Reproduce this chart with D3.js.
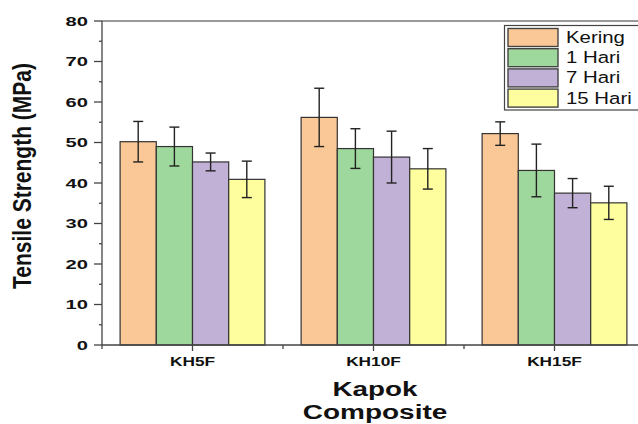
<!DOCTYPE html>
<html>
<head>
<meta charset="utf-8">
<script src="https://cdn.jsdelivr.net/npm/d3@7"></script>
<style>
  body { margin: 0; background: #fff; }
  svg { display: block; font-family: "Liberation Sans", Arial, sans-serif; }
</style>
</head>
<body>
<svg id="chart" width="638" height="424"></svg>
<script>
// data
const categories = ["KH5F", "KH10F", "KH15F"];
const seriesNames = ["Kering", "1 Hari", "7 Hari", "15 Hari"];
const seriesColors = ["#f9c896", "#9fd89c", "#c2b1d6", "#fefe9f"];
const means = [
  [50.2, 49.0, 45.2, 40.9],
  [56.2, 48.5, 46.4, 43.5],
  [52.2, 43.1, 37.5, 35.1]
];
const errors = [
  [5.0, 4.8, 2.2, 4.5],
  [7.2, 4.9, 6.4, 5.0],
  [2.9, 6.5, 3.6, 4.1]
];
const yTicks = [0, 10, 20, 30, 40, 50, 60, 70, 80];

const svg = d3.select("#chart");

const plotLeft = 102, plotRight = 645, plotTop = 21, plotBottom = 345;

const x0 = d3.scaleBand()
    .domain(categories)
    .range([plotLeft, plotRight])
    .paddingInner(0.2)
    .paddingOuter(0.1);

const x1 = d3.scaleBand()
    .domain(seriesNames)
    .range([0, x0.bandwidth()]);

const y = d3.scaleLinear()
    .domain([0, 80])
    .range([plotBottom, plotTop]);

// stretched text helper (the original picture is widened horizontally)
const addText = (g, x, yy, str, sx, size, weight, anchor) => {
  return g.append("text")
      .attr("transform", `translate(${x},${yy}) scale(${sx},1)`)
      .attr("text-anchor", anchor || "middle")
      .attr("font-size", size)
      .attr("font-weight", weight || "normal")
      .attr("fill", "#111")
      .text(str);
};

// bars
const groups = svg.append("g").selectAll("g")
    .data(categories)
    .enter()
    .append("g")
    .attr("transform", d => `translate(${x0(d)},0)`);

groups.selectAll("rect")
    .data((d, i) => means[i].map((v, j) => ({ s: seriesNames[j], v: v, e: errors[i][j], c: seriesColors[j] })))
    .enter()
    .append("rect")
    .attr("x", d => x1(d.s))
    .attr("y", d => y(d.v))
    .attr("width", x1.bandwidth())
    .attr("height", d => y(0) - y(d.v))
    .attr("fill", d => d.c)
    .attr("stroke", "#333")
    .attr("stroke-width", 1.2);

// error bars
const eb = groups.selectAll("g.err")
    .data((d, i) => means[i].map((v, j) => ({ s: seriesNames[j], v: v, e: errors[i][j] })))
    .enter()
    .append("g")
    .attr("class", "err")
    .attr("stroke", "#222")
    .attr("stroke-width", 1.4);

eb.append("line")
    .attr("x1", d => x1(d.s) + x1.bandwidth() / 2)
    .attr("x2", d => x1(d.s) + x1.bandwidth() / 2)
    .attr("y1", d => y(d.v + d.e))
    .attr("y2", d => y(d.v - d.e));
[1, -1].forEach(sign => {
  eb.append("line")
      .attr("x1", d => x1(d.s) + x1.bandwidth() / 2 - 5)
      .attr("x2", d => x1(d.s) + x1.bandwidth() / 2 + 5)
      .attr("y1", d => y(d.v + sign * d.e))
      .attr("y2", d => y(d.v + sign * d.e));
});

// frame
svg.append("line")
    .attr("x1", plotLeft).attr("x2", plotRight)
    .attr("y1", plotTop).attr("y2", plotTop)
    .attr("stroke", "#777").attr("stroke-width", 1.3);

const axisG = svg.append("g").attr("stroke", "#444").attr("stroke-width", 1.3);
axisG.append("line").attr("x1", plotLeft).attr("x2", plotLeft).attr("y1", plotTop).attr("y2", plotBottom);
axisG.append("line").attr("x1", plotLeft).attr("x2", plotRight).attr("y1", plotBottom).attr("y2", plotBottom);

// y ticks
yTicks.forEach(t => {
  axisG.append("line").attr("x1", plotLeft - 8).attr("x2", plotLeft).attr("y1", y(t)).attr("y2", y(t));
  if (t < 80) {
    axisG.append("line").attr("x1", plotLeft - 3).attr("x2", plotLeft).attr("y1", y(t + 5)).attr("y2", y(t + 5));
  }
  addText(svg, 88, y(t) + 4.5, String(t), 1.55, 13, "bold", "end");
});

// x ticks
categories.forEach(c => {
  const cx = x0(c) + x0.bandwidth() / 2;
  axisG.append("line").attr("x1", cx).attr("x2", cx).attr("y1", plotBottom).attr("y2", plotBottom + 6);
  addText(svg, cx, 366, c, 1.28, 13.5, "bold");
});
[0, 1, 2].forEach(i => {
  const bx = plotLeft + i * x0.step();
  axisG.append("line").attr("x1", bx).attr("x2", bx).attr("y1", plotBottom).attr("y2", plotBottom + 4);
});

// axis titles
svg.append("text")
    .attr("transform", "translate(31,176) scale(1.25,1) rotate(-90)")
    .attr("text-anchor", "middle")
    .attr("font-size", 21)
    .attr("font-weight", "bold")
    .attr("fill", "#111")
    .text("Tensile Strength (MPa)");

addText(svg, 375, 396, "Kapok", 1.39, 20, "bold");
addText(svg, 375, 419, "Composite", 1.4, 20, "bold");

// legend
const legend = svg.append("g");
legend.append("rect")
    .attr("x", 504.5).attr("y", 25.5)
    .attr("width", 150).attr("height", 84.5)
    .attr("fill", "#fff")
    .attr("stroke", "#444").attr("stroke-width", 1.2);

seriesNames.forEach((s, i) => {
  const ry = 28.5 + i * 20.2;
  legend.append("rect")
      .attr("x", 508).attr("y", ry)
      .attr("width", 50).attr("height", 18)
      .attr("fill", seriesColors[i])
      .attr("stroke", "#444").attr("stroke-width", 1.4);
  addText(legend, 566, ry + 14.5, s, 1.2, 17, "normal", "start");
});
</script>
</body>
</html>
